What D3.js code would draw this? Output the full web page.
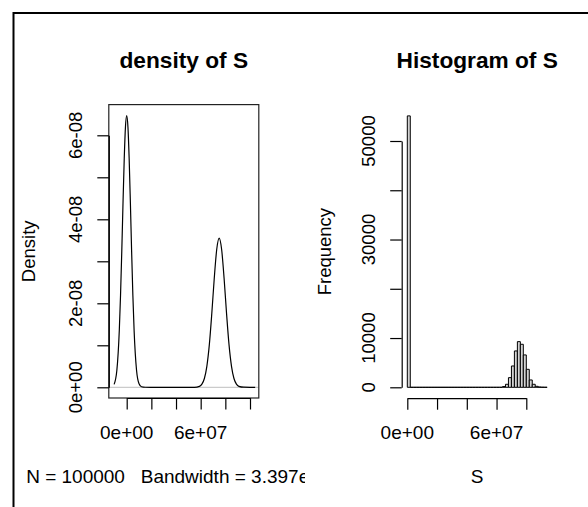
<!DOCTYPE html>
<html>
<head>
<meta charset="utf-8">
<script src="https://cdn.jsdelivr.net/npm/d3@7"></script>
<style>
  body { margin: 0; background: #fff; }
  text { font-family: "Liberation Sans", Arial, sans-serif; fill: #000; }
</style>
</head>
<body>
<svg id="chart" width="588" height="507"></svg>
<script>
// density estimate of S
var densX = [-1.02e7, -8e6, -6e6, -5e6, -4e6, -3e6, -2e6, -1e6, 0, 1e6, 2e6, 3e6, 4e6, 5e6, 6e6, 8e6, 1e7, 1.2e7, 1.5e7,
             2e7, 3e7, 4e7, 5e7, 5.5e7, 5.9e7, 6.1e7, 6.3e7, 6.5e7, 6.7e7, 6.9e7, 7.1e7, 7.3e7, 7.5e7, 7.7e7, 7.9e7,
             8.1e7, 8.3e7, 8.5e7, 8.7e7, 8.9e7, 9.1e7, 9.5e7, 1.0e8, 1.042e8];
var densY = [0.07e-8, 0.40e-8, 1.36e-8, 2.19e-8, 3.23e-8, 4.38e-8, 5.44e-8, 6.20e-8, 6.47e-8, 6.20e-8, 5.44e-8, 4.38e-8,
             3.23e-8, 2.19e-8, 1.36e-8, 0.40e-8, 0.085e-8, 0.013e-8, 0.001e-8,
             0, 0, 0, 0, 0, 0.023e-8, 0.076e-8, 0.21e-8, 0.50e-8, 1.01e-8, 1.75e-8, 2.59e-8, 3.28e-8, 3.55e-8, 3.28e-8,
             2.59e-8, 1.75e-8, 1.01e-8, 0.50e-8, 0.21e-8, 0.076e-8, 0.023e-8, 0.002e-8, 0, 0];

// histogram of S, bins 2e6 wide starting at 0
var binWidth = 2e6;
var histCounts = [55100, 0, 0, 0, 0, 0, 0, 0, 0, 0, 0, 0, 0, 0, 0, 0,
                  0, 0, 0, 0, 0, 0, 0, 0, 0, 0, 0, 0, 0, 0, 0, 0,
                  150, 610, 1960, 4330, 7380, 9270, 8730, 6570, 3650, 1490, 610, 200, 60, 20, 5];

// ticks and labels
var densXTicks = [0, 2e7, 4e7, 6e7, 8e7, 1e8];
var densXLabels = ["0e+00", "", "", "6e+07", "", ""];
var densYTicks = [0, 1e-8, 2e-8, 3e-8, 4e-8, 5e-8, 6e-8];
var densYLabels = ["0e+00", "", "2e-08", "", "4e-08", "", "6e-08"];
var histXTicks = [0, 2e7, 4e7, 6e7, 8e7];
var histXLabels = ["0e+00", "", "", "6e+07", ""];
var histYTicks = [0, 10000, 20000, 30000, 40000, 50000];
var histYLabels = ["0", "10000", "", "30000", "", "50000"];

var svg = d3.select("#chart");
svg.append("rect").attr("width", 588).attr("height", 507).attr("fill", "#fff");

// outer frame (top and left edges only visible)
svg.append("path").attr("d", "M13.5,507V13H588").attr("fill", "none").attr("stroke", "#000").attr("stroke-width", 2);

var tickLen = 11.5;

/* ---------- left: density ---------- */
var L = {left: 108.8, right: 258.8, top: 104.6, bottom: 398};
var xD = d3.scaleLinear().domain([0, 1e8]).range([126.7, 250]);
var yD = d3.scaleLinear().domain([0, 6e-8]).range([387.3, 135.3]);

svg.append("clipPath").attr("id", "figL").append("rect")
    .attr("x", 13).attr("y", 0).attr("width", 292).attr("height", 507);

// zero line
svg.append("line")
    .attr("x1", L.left).attr("x2", L.right).attr("y1", yD(0)).attr("y2", yD(0))
    .attr("stroke", "#bebebe").attr("stroke-width", 1);

var line = d3.line()
    .x(function(d){ return xD(d[0]); })
    .y(function(d){ return yD(d[1]); })
    .curve(d3.curveMonotoneX);
svg.append("path")
    .datum(densX.map(function(x, i){ return [x, densY[i]]; }))
    .attr("d", line)
    .attr("fill", "none").attr("stroke", "#000").attr("stroke-width", 1.2);

svg.append("rect")
    .attr("x", L.left).attr("y", L.top).attr("width", L.right - L.left).attr("height", L.bottom - L.top)
    .attr("fill", "none").attr("stroke", "#222").attr("stroke-width", 1.2);

var gxD = svg.append("g").attr("transform", "translate(0," + L.bottom + ")")
    .call(d3.axisBottom(xD).tickValues(densXTicks).tickFormat("").tickSizeOuter(0).tickSizeInner(tickLen));
var gyD = svg.append("g").attr("transform", "translate(" + L.left + ",0)")
    .call(d3.axisLeft(yD).tickValues(densYTicks).tickFormat("").tickSizeOuter(0).tickSizeInner(tickLen));
[gxD, gyD].forEach(function(g){
  g.selectAll("path, line").attr("stroke", "#000").attr("stroke-width", 1.2);
});

svg.selectAll(".dxlab").data(densXTicks).enter().append("text")
    .attr("x", function(d){ return xD(d); }).attr("y", 439.3)
    .attr("text-anchor", "middle").attr("font-size", 19)
    .text(function(d, i){ return densXLabels[i]; });

svg.selectAll(".dylab").data(densYTicks).enter().append("text")
    .attr("transform", function(d){ return "translate(81.7," + yD(d) + ") rotate(-90)"; })
    .attr("text-anchor", "middle").attr("font-size", 18.5)
    .text(function(d, i){ return densYLabels[i]; });

svg.append("text").attr("transform", "translate(35," + ((L.top + L.bottom) / 2) + ") rotate(-90)")
    .attr("text-anchor", "middle").attr("font-size", 18.5).text("Density");

svg.append("text").attr("x", (L.left + L.right) / 2).attr("y", 68)
    .attr("text-anchor", "middle").attr("font-size", 22.7).attr("font-weight", "bold").text("density of S");

svg.append("text").attr("x", (L.left + L.right) / 2).attr("y", 483.3)
    .attr("text-anchor", "middle").attr("font-size", 19).attr("clip-path", "url(#figL)")
    .style("white-space", "pre")
    .text("N = 100000   Bandwidth = 3.397e+06");

/* ---------- right: histogram ---------- */
var R = {left: 401.7, right: 552.7, top: 105, bottom: 398.2};
var xH = d3.scaleLinear().domain([0, 8e7]).range([407.3, 526.3]);
var yH = d3.scaleLinear().domain([0, 50000]).range([387.3, 141]);

var bins = histCounts.map(function(c, i){ return {lo: i * binWidth, hi: (i + 1) * binWidth, n: c}; });
// paths so that empty bins still show as a flat outline
svg.selectAll(".bar").data(bins).enter().append("path")
    .attr("class", "bar")
    .attr("d", function(d){
      var x0 = xH(d.lo), x1 = xH(d.hi), y0 = yH(0), y1 = yH(d.n);
      return "M" + x0 + "," + y0 + "V" + y1 + "H" + x1 + "V" + y0 + "Z";
    })
    .attr("fill", "#d3d3d3").attr("stroke", "#000").attr("stroke-width", 1);

var gxH = svg.append("g").attr("transform", "translate(0," + R.bottom + ")")
    .call(d3.axisBottom(xH).tickValues(histXTicks).tickFormat("").tickSizeOuter(0).tickSizeInner(tickLen));
var gyH = svg.append("g").attr("transform", "translate(" + R.left + ",0)")
    .call(d3.axisLeft(yH).tickValues(histYTicks).tickFormat("").tickSizeOuter(0).tickSizeInner(tickLen));
[gxH, gyH].forEach(function(g){
  g.selectAll("path, line").attr("stroke", "#000").attr("stroke-width", 1.2);
});

svg.selectAll(".hxlab").data(histXTicks).enter().append("text")
    .attr("x", function(d){ return xH(d); }).attr("y", 439.3)
    .attr("text-anchor", "middle").attr("font-size", 19)
    .text(function(d, i){ return histXLabels[i]; });

svg.selectAll(".hylab").data(histYTicks).enter().append("text")
    .attr("transform", function(d){ return "translate(375," + yH(d) + ") rotate(-90)"; })
    .attr("text-anchor", "middle").attr("font-size", 18.5)
    .text(function(d, i){ return histYLabels[i]; });

svg.append("text").attr("transform", "translate(331," + ((R.top + R.bottom) / 2) + ") rotate(-90)")
    .attr("text-anchor", "middle").attr("font-size", 18.5).text("Frequency");

svg.append("text").attr("x", (R.left + R.right) / 2).attr("y", 67.7)
    .attr("text-anchor", "middle").attr("font-size", 22.7).attr("font-weight", "bold").text("Histogram of S");

svg.append("text").attr("x", (R.left + R.right) / 2).attr("y", 483.3)
    .attr("text-anchor", "middle").attr("font-size", 19).text("S");
</script>
</body>
</html>
